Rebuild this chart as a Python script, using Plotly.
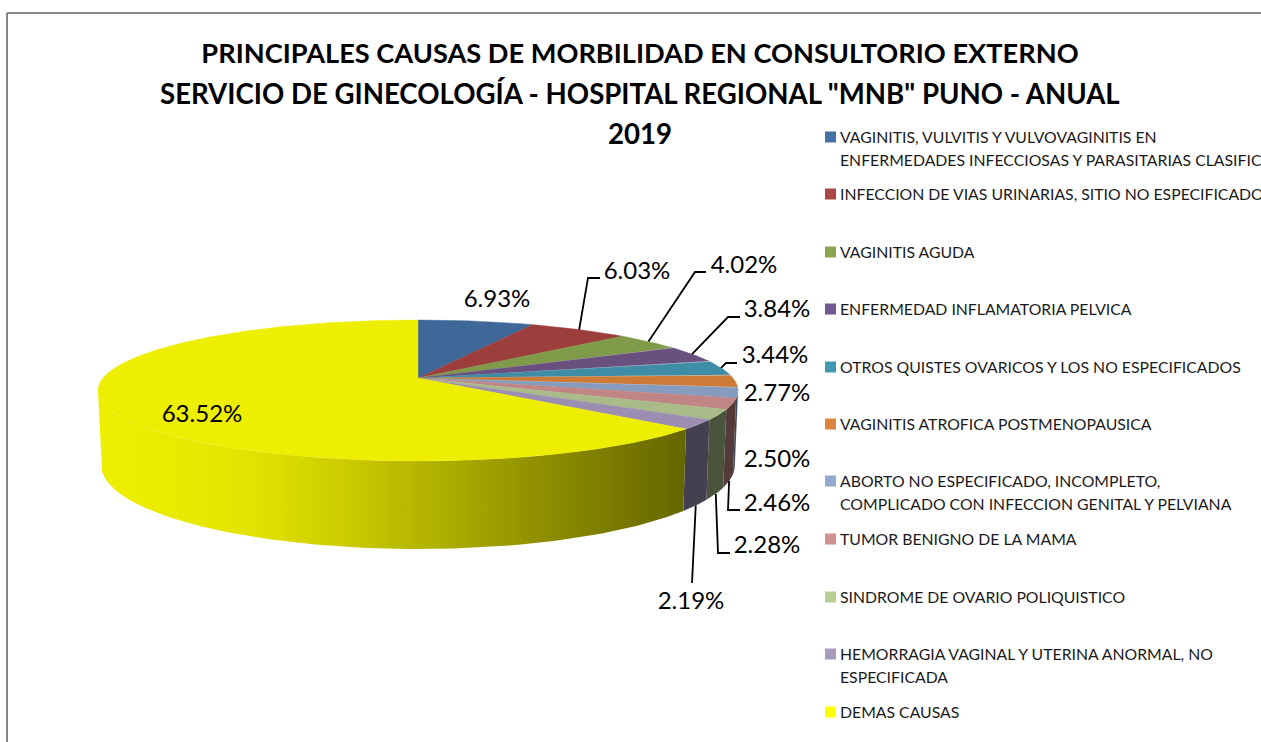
import numpy as np
import plotly.graph_objects as go

# ---- data ----
categories = [
    "VAGINITIS, VULVITIS Y VULVOVAGINITIS EN ENFERMEDADES INFECCIOSAS Y PARASITARIAS CLASIFICADAS",
    "INFECCION DE VIAS URINARIAS, SITIO NO ESPECIFICADO",
    "VAGINITIS AGUDA",
    "ENFERMEDAD INFLAMATORIA PELVICA",
    "OTROS QUISTES OVARICOS Y LOS NO ESPECIFICADOS",
    "VAGINITIS ATROFICA POSTMENOPAUSICA",
    "ABORTO NO ESPECIFICADO, INCOMPLETO, COMPLICADO CON INFECCION GENITAL Y PELVIANA",
    "TUMOR BENIGNO DE LA MAMA",
    "SINDROME DE OVARIO POLIQUISTICO",
    "HEMORRAGIA VAGINAL Y UTERINA ANORMAL, NO ESPECIFICADA",
    "DEMAS CAUSAS",
]
values = [6.93, 6.03, 4.02, 3.84, 3.44, 2.77, 2.50, 2.46, 2.28, 2.19, 63.52]
title_lines = [
    "PRINCIPALES CAUSAS DE MORBILIDAD EN CONSULTORIO EXTERNO",
    'SERVICIO DE GINECOLOGÍA - HOSPITAL REGIONAL "MNB" PUNO - ANUAL',
    "2019",
]

# ---- styles ----
top_colors = ["#3F6898", "#9C3E3C", "#7F9A48", "#69507F", "#3E8CA5", "#CC7A36",
              "#859CBE", "#C08584", "#AABB8A", "#9C8EB2", "#EEEE00"]
side_colors = ["#263F5C", "#5E2624", "#4D5D2B", "#3F304D", "#255564", "#7B4A20",
               "#3C4A5E", "#553A3A", "#4A533B", "#44404F", None]
swatch_colors = ["#4572A7", "#AA4643", "#89A54E", "#71588F", "#4198AF", "#DB843D",
                 "#93A9CF", "#D19392", "#B9CD96", "#A99BBD", "#FFFF00"]
legend_lines = [
    ["VAGINITIS, VULVITIS Y VULVOVAGINITIS EN",
     "ENFERMEDADES INFECCIOSAS Y PARASITARIAS CLASIFICADAS"],
    ["INFECCION DE VIAS URINARIAS, SITIO NO ESPECIFICADO"],
    ["VAGINITIS AGUDA"],
    ["ENFERMEDAD INFLAMATORIA PELVICA"],
    ["OTROS QUISTES OVARICOS Y LOS NO ESPECIFICADOS"],
    ["VAGINITIS ATROFICA POSTMENOPAUSICA"],
    ["ABORTO NO ESPECIFICADO, INCOMPLETO,",
     "COMPLICADO CON INFECCION GENITAL Y PELVIANA"],
    ["TUMOR BENIGNO DE LA MAMA"],
    ["SINDROME DE OVARIO POLIQUISTICO"],
    ["HEMORRAGIA VAGINAL Y UTERINA ANORMAL, NO", "ESPECIFICADA"],
    ["DEMAS CAUSAS"],
]
legend_y = [137, 194, 252, 309, 367, 424, 481, 539, 597, 654, 712]
LEGEND_STEP = 23
FONT = "Lato, Carlito, Calibri, sans-serif"

# ---- 3D-pie projection (view plane, perspective) ----
CX, CY = 418.0, 378.0
A, B, K = 315.0, 68.3, 0.177
DEPTH, BOTTOM_X = 72.4, 0.99


def project(theta_deg, lower=False):
    t = np.radians(theta_deg)
    u, v = np.sin(t), np.cos(t)
    w = 1 + K * v
    x = CX + (A * BOTTOM_X if lower else A) * u / w
    y = CY - B * v / w + (DEPTH / w if lower else 0)
    return x, y


cum = np.concatenate([[0], np.cumsum(values)])
cum = cum / cum[-1] * 360.0
starts, ends = cum[:-1], cum[1:]
mids = (starts + ends) / 2
VIS0, VIS1 = 100.2, 259.8

fig = go.Figure()

# side walls
for i, (s, e) in enumerate(zip(starts, ends)):
    a0, a1 = max(s, VIS0), min(e, VIS1)
    if a1 <= a0:
        continue
    ang = np.linspace(a0, a1, 90)
    xt, yt = project(ang)
    xb, yb = project(ang, lower=True)
    xs = np.concatenate([xt, xb[::-1], xt[:1]])
    ys = np.concatenate([yt, yb[::-1], yt[:1]])
    kw = {}
    if side_colors[i] is None:
        kw["fillgradient"] = dict(
            type="horizontal",
            colorscale=[[0, "#EEEE00"], [0.10, "#ECEC00"], [0.27, "#E2E200"],
                        [0.44, "#C8C800"], [0.61, "#AAAA00"], [0.78, "#8A8A00"],
                        [1, "#666600"]],
        )
    else:
        kw["fillcolor"] = side_colors[i]
    fig.add_trace(go.Scatter(x=xs, y=ys, mode="lines", fill="toself",
                             line=dict(width=0, color="rgba(0,0,0,0)"),
                             hoverinfo="skip", showlegend=False, **kw))

# top faces
for i, (s, e) in enumerate(zip(starts, ends)):
    ang = np.linspace(s, e, max(8, int((e - s) * 2)))
    xt, yt = project(ang)
    xs = np.concatenate([[CX], xt, [CX]])
    ys = np.concatenate([[CY], yt, [CY]])
    fig.add_trace(go.Scatter(x=xs, y=ys, mode="lines", fill="toself",
                             fillcolor=top_colors[i],
                             line=dict(width=0.4, color=top_colors[i]),
                             name=categories[i], text=[f"{values[i]:.2f}%"] * len(xs),
                             hoverinfo="name+text", showlegend=False))

# data labels: slice index -> label centre, leader elbow points, rim used
label_pos = {0: (497, 301), 1: (637, 273), 2: (744, 267), 3: (777, 311), 4: (775, 357),
             5: (777, 395), 6: (777, 461), 7: (777, 505), 8: (767, 547), 9: (691, 603),
             10: (202, 416)}
leaders = {1: ([(588, 278), (600, 278)], False),
           2: ([(695, 272), (706, 272)], False),
           3: ([(728, 317), (740, 317)], False),
           4: ([(726, 363), (737, 363)], False),
           7: ([(728, 510), (740, 510)], True),
           8: ([(718, 553), (730, 553)], True),
           9: ([(692, 583)], True)}
for i, (pts, lower) in leaders.items():
    x0, y0 = project(mids[i], lower=lower)
    fig.add_trace(go.Scatter(x=[float(x0)] + [p[0] for p in pts],
                             y=[float(y0)] + [p[1] for p in pts],
                             mode="lines", line=dict(color="#000000", width=1.8),
                             hoverinfo="skip", showlegend=False))
fig.add_trace(go.Scatter(
    x=[label_pos[i][0] for i in range(len(values))],
    y=[label_pos[i][1] for i in range(len(values))],
    text=[f"{v:.2f}%" for v in values], mode="text", textposition="middle center",
    textfont=dict(family=FONT, size=24, color="#000000"),
    hoverinfo="skip", showlegend=False))

# legend, drawn by hand to keep the reference spacing
shapes = [
    dict(type="line", xref="x", yref="y", x0=7, x1=1261, y0=13, y1=13,
         line=dict(color="#868686", width=2)),
    dict(type="line", xref="x", yref="y", x0=7, x1=7, y0=13, y1=742,
         line=dict(color="#868686", width=2)),
]
annotations = []
for i, lines in enumerate(legend_lines):
    y = legend_y[i]
    shapes.append(dict(type="rect", xref="x", yref="y", x0=825, x1=836, y0=y - 5.5, y1=y + 5.5,
                       fillcolor=swatch_colors[i], line=dict(width=0)))
    for j, line in enumerate(lines):
        annotations.append(dict(x=838, y=y - 1 + j * LEGEND_STEP, xref="x", yref="y", text=line,
                                showarrow=False, xanchor="left", yanchor="middle", align="left",
                                font=dict(family=FONT, size=15.8, color="#1A1A1A")))
for line, y in zip(title_lines[1:], (93, 133)):
    annotations.append(dict(x=640, y=y, xref="x", yref="y", text=f"<b>{line}</b>",
                            showarrow=False, xanchor="center", yanchor="middle",
                            font=dict(family=FONT, size=27.6, color="#000000")))

fig.update_layout(
    width=1261, height=742, margin=dict(l=0, r=0, t=0, b=0),
    paper_bgcolor="#FFFFFF", plot_bgcolor="#FFFFFF", showlegend=False,
    title=dict(text=f"<b>{title_lines[0]}</b>", x=640 / 1261, y=1 - 53 / 742,
               xanchor="center", yanchor="middle",
               font=dict(family=FONT, size=27.2, color="#000000")),
    xaxis=dict(range=[0, 1261], visible=False, fixedrange=True),
    yaxis=dict(range=[742, 0], visible=False, fixedrange=True),
    shapes=shapes, annotations=annotations,
)
fig.write_html("out.html", config={"displayModeBar": False},
               post_script="document.body.style.margin='0';document.body.style.overflow='hidden';")
